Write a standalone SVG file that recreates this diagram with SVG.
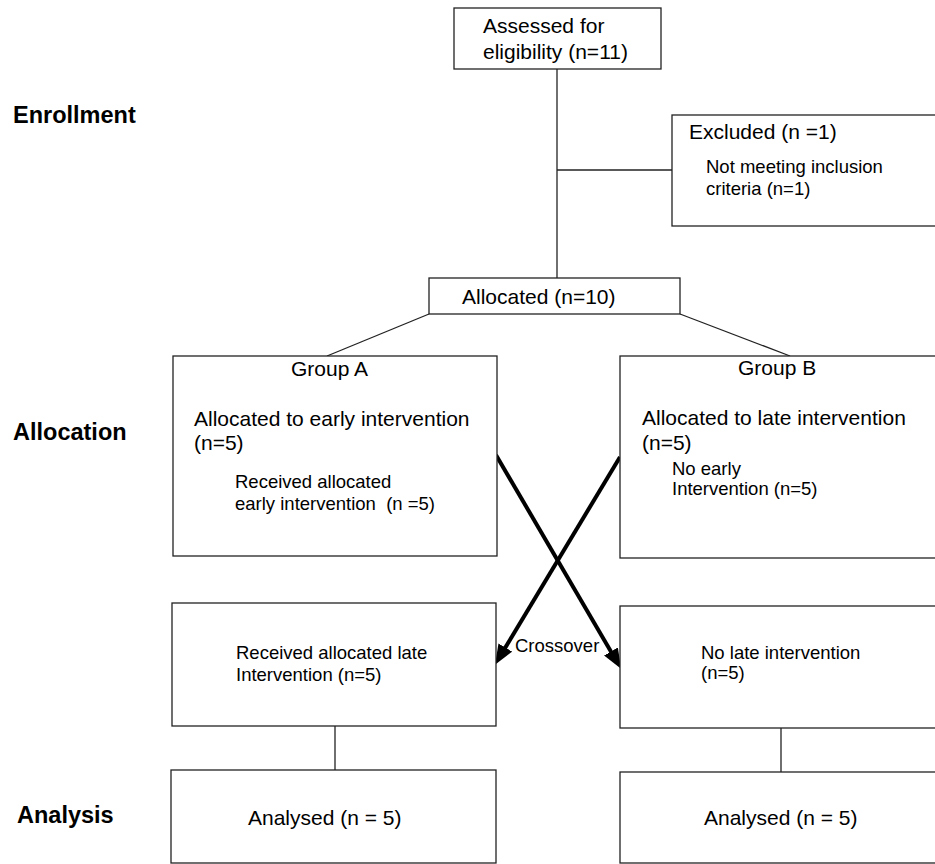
<svg xmlns="http://www.w3.org/2000/svg" width="935" height="864" viewBox="0 0 935 864">
<style>
  .box { fill: #ffffff; stroke: #222222; stroke-width: 1.3; }
  .ln { stroke: #222222; stroke-width: 1.3; fill: none; }
  .arr { stroke: #000000; stroke-width: 4; fill: none; }
  text { font-family: "Liberation Sans", Arial, sans-serif; fill: #000000; white-space: pre; }
  .t21 { font-size: 21px; }
  .t18 { font-size: 18.5px; }
  .lab { font-size: 23.5px; font-weight: bold; }
</style>
<defs>
  <marker id="ah" markerUnits="userSpaceOnUse" markerWidth="20" markerHeight="16" refX="8" refY="8" orient="auto">
    <path d="M0,0 L20,8 L0,16 z" fill="#000000"/>
  </marker>
</defs>
<rect width="935" height="864" fill="#ffffff"/>

<g id="labels">
  <text class="lab" x="13" y="123">Enrollment</text>
  <text class="lab" x="13" y="440">Allocation</text>
  <text class="lab" x="17" y="823">Analysis</text>
</g>

<g id="connectors">
  <line class="ln" x1="557" y1="69" x2="557" y2="278"/>
  <line class="ln" x1="557" y1="170" x2="672" y2="170"/>
  <line class="ln" x1="429" y1="314" x2="327" y2="356"/>
  <line class="ln" x1="680" y1="314" x2="790" y2="356"/>
  <line class="arr" x1="496" y1="455" x2="615" y2="658.4" marker-end="url(#ah)"/>
  <line class="arr" x1="620" y1="457" x2="501.2" y2="654.4" marker-end="url(#ah)"/>
  <line class="ln" x1="335" y1="726" x2="335" y2="770"/>
  <line class="ln" x1="781" y1="728" x2="781" y2="772"/>
</g>

<g id="assessed">
  <rect class="box" x="454" y="8" width="207" height="61"/>
  <text class="t21" x="483" y="33">Assessed for</text>
  <text class="t21" x="483" y="59">eligibility (n=11)</text>
</g>

<g id="excluded">
  <rect class="box" x="672" y="115" width="273" height="111"/>
  <text class="t21" x="689" y="139">Excluded (n =1)</text>
  <text class="t18" x="706" y="173">Not meeting inclusion</text>
  <text class="t18" x="706" y="195">criteria (n=1)</text>
</g>

<g id="allocated">
  <rect class="box" x="429" y="278" width="251" height="36"/>
  <text class="t21" x="462" y="304">Allocated (n=10)</text>
</g>

<g id="groupA">
  <rect class="box" x="173" y="356" width="324" height="200"/>
  <text class="t21" x="291" y="376">Group A</text>
  <text class="t21" x="194" y="426">Allocated to early intervention</text>
  <text class="t21" x="194" y="450">(n=5)</text>
  <text class="t18" x="235" y="488">Received allocated</text>
  <text class="t18" x="235" y="510">early intervention  (n =5)</text>
</g>

<g id="groupB">
  <rect class="box" x="620" y="356" width="325" height="202"/>
  <text class="t21" x="738" y="375">Group B</text>
  <text class="t21" x="642" y="425">Allocated to late intervention</text>
  <text class="t21" x="642" y="450">(n=5)</text>
  <text class="t18" x="672" y="475">No early</text>
  <text class="t18" x="672" y="495">Intervention (n=5)</text>
</g>

<g id="crossover">
  <text class="t18" x="515" y="652">Crossover</text>
</g>

<g id="lateA">
  <rect class="box" x="172" y="603" width="324" height="123"/>
  <text class="t18" x="236" y="659">Received allocated late</text>
  <text class="t18" x="236" y="681">Intervention (n=5)</text>
</g>

<g id="lateB">
  <rect class="box" x="620" y="606" width="325" height="122"/>
  <text class="t18" x="701" y="659">No late intervention</text>
  <text class="t18" x="701" y="679">(n=5)</text>
</g>

<g id="analysedA">
  <rect class="box" x="171" y="770" width="325" height="93"/>
  <text class="t21" x="248" y="825">Analysed (n = 5)</text>
</g>

<g id="analysedB">
  <rect class="box" x="620" y="772" width="325" height="91"/>
  <text class="t21" x="704" y="825">Analysed (n = 5)</text>
</g>
</svg>
